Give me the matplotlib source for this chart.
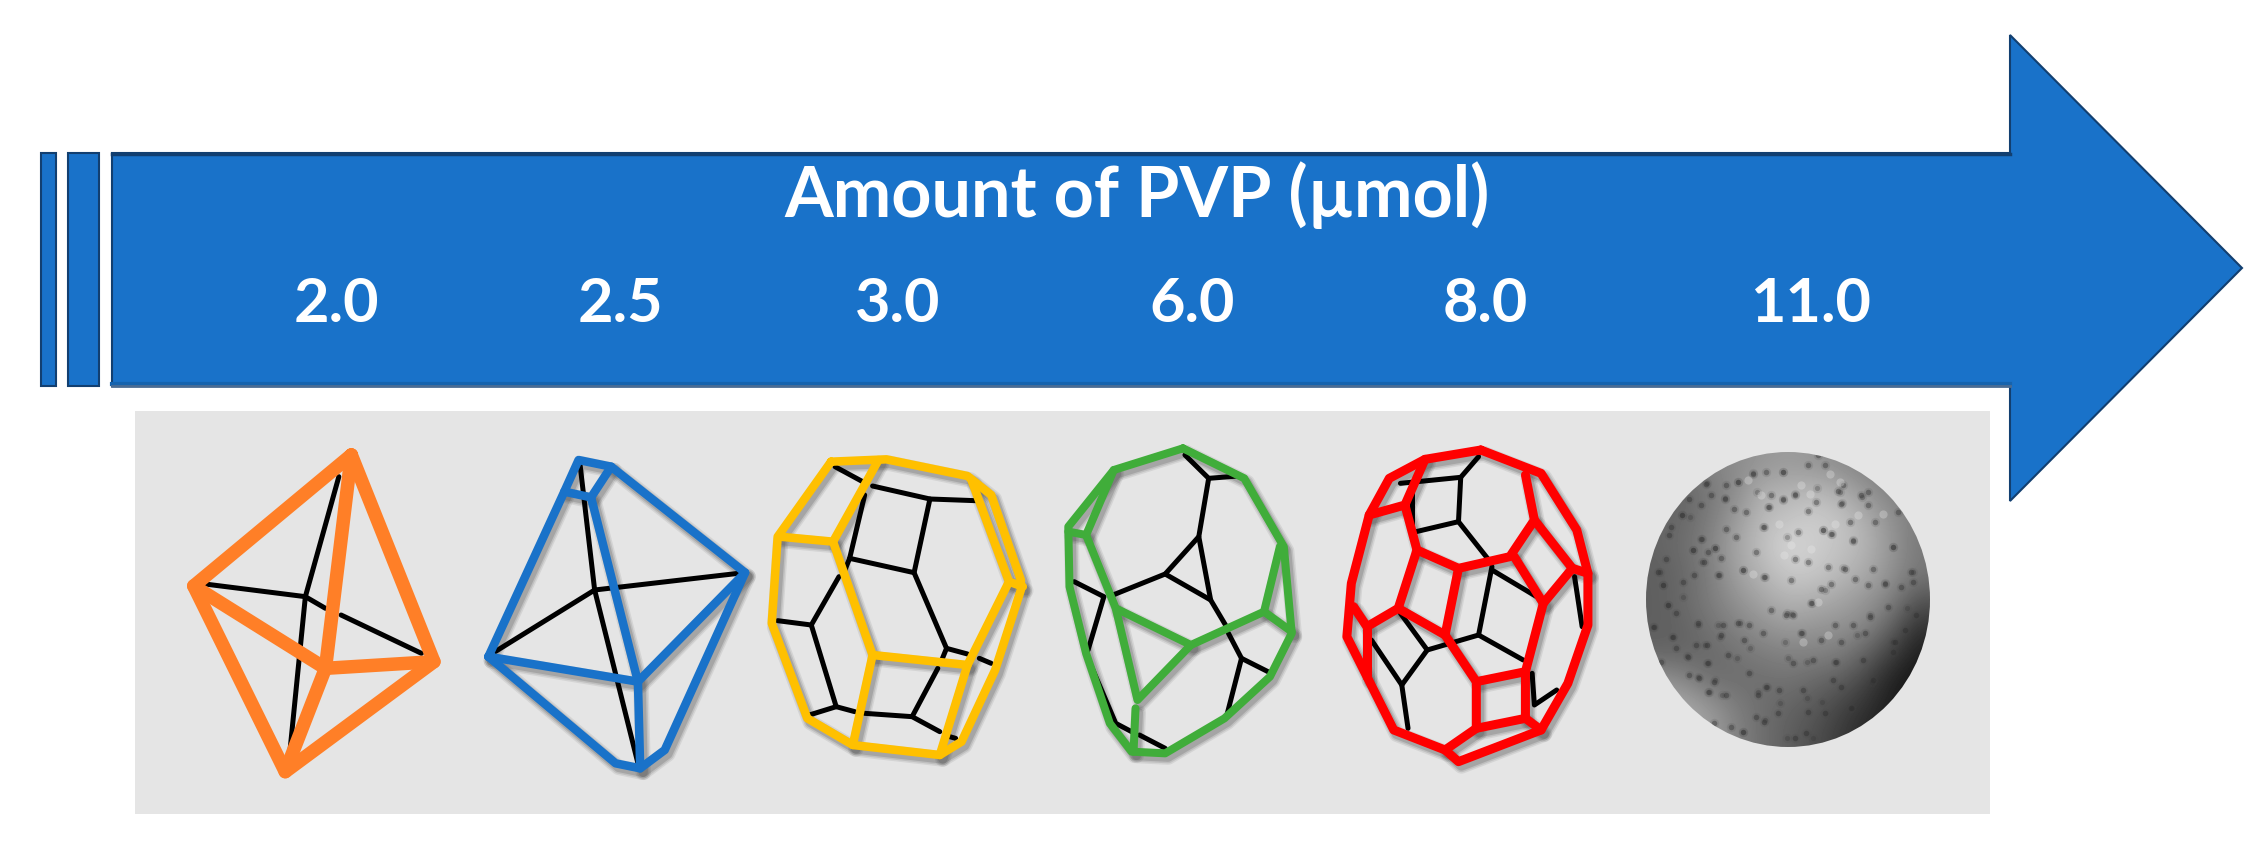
import numpy as np
import matplotlib
matplotlib.use("Agg")
import matplotlib.pyplot as plt
from matplotlib.patches import Ellipse, Polygon, Rectangle

plt.rcParams['font.family'] = ['Lato', 'DejaVu Sans']

W, H = 2261, 849
BLUE = "#1972C9"

# amounts written on the arrow
amounts = ["2.0", "2.5", "3.0", "6.0", "8.0", "11.0"]
amount_x = [336, 620, 898, 1192, 1485, 1810]
title = "Amount of PVP (\u00b5mol)"

# wireframes, traced in crop coordinates (see to_px)
orange_edges = [
    [(563, 165), (210, 558), (415, 1115), (748, 785), (563, 165)],
    [(210, 558), (505, 805), (748, 785)],
    [(563, 165), (505, 805), (415, 1115)],
]
orange_back = [
    [(535, 230), (460, 590), (425, 1060)],
    [(235, 552), (460, 590), (505, 625)],
    [(540, 645), (720, 760)],
]
blue_edges = [
    [(870, 770), (1040, 275), (1072, 180), (1145, 200), (1445, 518), (1205, 845), (870, 770)],
    [(1040, 275), (1100, 292), (1145, 200)],
    [(1100, 292), (1205, 845), (1210, 1105)],
    [(870, 770), (1155, 1090), (1210, 1105), (1265, 1050), (1445, 518)],
]
blue_back = [
    [(1075, 190), (1108, 570), (1205, 1090)],
    [(885, 755), (1108, 570), (1430, 520)],
]
yellow_edges = [
    [(205, 185), (345, 178), (550, 228), (610, 285), (685, 540), (685, 570), (620, 810),
     (535, 1025), (480, 1065), (260, 1035), (145, 955), (55, 670), (70, 410), (205, 185)],
    [(325, 180), (210, 425), (75, 410)],
    [(210, 425), (310, 765), (260, 1035)],
    [(310, 765), (550, 795), (480, 1065)],
    [(550, 795), (655, 545), (560, 240)],
    [(655, 545), (690, 560)],
]
yellow_back = [
    [(215, 200), (285, 245)],
    [(310, 258), (455, 297), (570, 302)],
    [(290, 285), (252, 475), (415, 518), (455, 297)],
    [(252, 475), (240, 510)],
    [(225, 530), (155, 675), (70, 662)],
    [(155, 675), (218, 920), (150, 945)],
    [(218, 920), (265, 935)],
    [(290, 940), (410, 950), (480, 995)],
    [(505, 1010), (520, 1015)],
    [(410, 950), (475, 805)],
    [(415, 518), (497, 745), (485, 780)],
    [(497, 745), (550, 762)],
    [(580, 775), (610, 790)],
]
green_edges = [
    [(1095, 145), (920, 210), (805, 380), (808, 560), (850, 760), (910, 970), (965, 1055),
     (1050, 1060), (1200, 955), (1315, 830), (1370, 700), (1350, 440), (1250, 235), (1095, 145)],
    [(920, 210), (850, 405), (805, 395)],
    [(850, 405), (925, 625), (1115, 735), (1300, 635), (1370, 695)],
    [(1300, 635), (1340, 440)],
    [(925, 625), (980, 900), (1115, 735)],
    [(975, 925), (970, 1055)],
]
green_back = [
    [(1100, 165), (1160, 235), (1235, 228)],
    [(1160, 235), (1135, 410), (1050, 522), (918, 585)],
    [(1135, 410), (1165, 600)],
    [(1050, 522), (1165, 600), (1205, 680)],
    [(1210, 700), (1243, 775), (1310, 815)],
    [(1243, 775), (1205, 950)],
    [(820, 545), (895, 590), (855, 750)],
    [(860, 790), (925, 970), (965, 995)],
    [(985, 1005), (1050, 1045)],
]
red_edges = [
    [(405, 150), (280, 178), (200, 235), (155, 345), (115, 550), (105, 710), (150, 830),
     (210, 990), (325, 1050), (355, 1085), (540, 990), (600, 850), (645, 675), (645, 520),
     (620, 390), (540, 220), (405, 150)],
    [(280, 178), (235, 315), (155, 345)],
    [(235, 315), (262, 450), (355, 505), (470, 470), (525, 360), (505, 225)],
    [(525, 360), (610, 505), (545, 610), (480, 470)],
    [(262, 450), (220, 625), (150, 680), (120, 620)],
    [(150, 680), (150, 830)],
    [(220, 625), (325, 705), (355, 505)],
    [(325, 705), (395, 845), (505, 815), (545, 610)],
    [(395, 845), (395, 985), (505, 955), (505, 815)],
    [(395, 985), (325, 1050)],
    [(505, 955), (540, 990)],
    [(610, 505), (645, 520)],
]
red_back = [
    [(400, 170), (360, 232), (225, 250)],
    [(360, 232), (355, 365), (260, 395)],
    [(250, 260), (250, 390)],
    [(355, 365), (420, 475)],
    [(430, 500), (400, 705), (285, 750), (225, 640)],
    [(430, 510), (530, 590)],
    [(400, 705), (500, 780)],
    [(285, 750), (228, 855), (160, 720)],
    [(228, 855), (242, 985)],
    [(520, 820), (525, 915), (575, 870)],
    [(615, 530), (632, 680)],
]

# grey levels of the sphere, read on a coarse grid
sphere_grey = [
    [120, 125, 130, 140, 150, 155, 150, 140, 130, 120, 115],
    [100, 100, 120, 140, 175, 180, 185, 175, 150, 130, 120],
    [100, 105, 125, 155, 185, 195, 205, 195, 175, 145, 125],
    [100, 110, 130, 165, 190, 215, 205, 195, 180, 150, 120],
    [95, 105, 125, 160, 180, 200, 200, 185, 170, 145, 120],
    [95, 105, 125, 145, 165, 180, 175, 165, 150, 130, 85],
    [95, 100, 115, 130, 145, 155, 150, 145, 135, 100, 50],
    [100, 100, 105, 115, 125, 130, 130, 125, 100, 65, 30],
    [150, 135, 110, 110, 110, 115, 105, 95, 70, 35, 20],
    [170, 170, 150, 125, 110, 100, 90, 70, 50, 30, 20],
    [170, 170, 160, 130, 110, 95, 80, 60, 40, 25, 20],
]
# dark specks per quarter of the sphere, crop coordinates
specks_tl = [(180, 95), (240, 100), (275, 90), (238, 140), (165, 160), (108, 190), (140, 295), (208, 288),
             (165, 262), (185, 300), (60, 320), (35, 360), (50, 400), (175, 330), (220, 370), (290, 355),
             (355, 375), (330, 300), (270, 255), (355, 225), (370, 165), (410, 140), (410, 60), (320, 65),
             (360, 60), (240, 230), (195, 130), (130, 140), (75, 225), (70, 250), (110, 390), (145, 370),
             (225, 318), (375, 128), (300, 180), (265, 170)]
specks_tr = [(20, 128), (130, 245), (150, 118), (160, 155), (220, 130), (240, 120), (60, 178), (105, 235),
             (195, 268), (315, 285), (240, 160), (20, 320), (120, 345), (170, 350), (290, 395), (340, 405),
             (370, 360), (375, 390), (60, 40), (110, 40), (90, 10), (165, 100), (260, 210), (85, 150),
             (30, 240), (200, 380), (100, 410), (10, 385), (130, 395), (255, 350), (240, 400), (330, 180),
             (60, 330), (185, 210)]
specks_bl = [(125, 170), (150, 135), (182, 135), (25, 80), (65, 15), (90, 40), (80, 110), (155, 70),
             (230, 75), (225, 105), (295, 120), (335, 285), (275, 70), (160, 235), (205, 245), (185, 190),
             (240, 285), (190, 275), (290, 395), (255, 380), (330, 350), (360, 260), (400, 270), (355, 365),
             (420, 45), (350, 100), (310, 75), (90, 145), (45, 185), (130, 225), (205, 370), (310, 220),
             (395, 340), (245, 165), (375, 30)]
specks_br = [(15, 45), (40, 100), (145, 185), (160, 125), (230, 100), (195, 75), (135, 240), (255, 240),
             (350, 90), (320, 125), (315, 155), (140, 75), (75, 180), (15, 190), (20, 415), (60, 335),
             (110, 340), (190, 325), (45, 270), (160, 260), (245, 50), (70, 10), (300, 20), (385, 45),
             (100, 120), (225, 180), (55, 400)]
# pale spots, same crops
pale_tl = [(400, 215), (415, 310), (320, 365), (345, 130), (305, 85)]
pale_tr = [(10, 280), (65, 125), (155, 90), (40, 100), (70, 290), (210, 190), (285, 185), (125, 65), (140, 215)]
pale_br = [(120, 105), (45, 125), (90, 5)]
# smaller specks
speck_x = [255, 295, 200, 150, 125, 160, 225, 185, 60, 68, 130, 85, 40, 95, 140, 195, 175, 240, 310,
           375, 455, 440, 575, 665, 600, 605, 465, 430, 385, 350, 340, 430, 530, 640, 760, 735, 820,
           800, 690, 555, 515, 485, 435, 355, 380, 445, 585, 695, 635, 545, 500, 420, 375, 310, 245,
           205, 225, 175, 200, 290, 330, 300, 235, 235, 185, 370, 440, 550, 610, 650, 760, 500, 440, 520]
speck_y = [158, 112, 115, 215, 210, 315, 310, 283, 380, 420, 455, 480, 545, 575, 632, 600, 540, 575, 375,
           395, 508, 505, 267, 155, 140, 175, 148, 165, 185, 140, 85, 80, 130, 285, 305, 415, 380,
           490, 510, 435, 475, 565, 590, 740, 725, 640, 650, 710, 790, 770, 760, 775, 825, 860, 750,
           740, 705, 695, 655, 640, 610, 535, 540, 390, 350, 245, 275, 255, 370, 570, 590, 650, 880, 880]


def to_px(paths, x0, xscale):
    # crops were x-squeezed by the viewer, y is always 3x from y=400
    return [[(x0 + x / xscale, 400 + y / 3) for x, y in p] for p in paths]


def quarter_px(points, x0, y0):
    return [(x0 + x / 3, y0 + y / 3) for x, y in points]


def draw_paths(ax, paths, color, width, shadow=False):
    for p in paths:
        xs, ys = zip(*p)
        if shadow:
            for extra, alpha in [(7, 0.10), (4, 0.14), (1, 0.20)]:
                ax.plot(np.array(xs) + 3, np.array(ys) + 4, color="#404040", alpha=alpha,
                        lw=(width + extra) * 0.72, solid_capstyle="round", zorder=2)
        ax.plot(xs, ys, color=color, lw=width * 0.72, solid_capstyle="round",
                solid_joinstyle="round", zorder=3 if color == "black" else 4)


fig = plt.figure(figsize=(W / 100, H / 100), dpi=100, facecolor="white")
ax = fig.add_axes([0, 0, 1, 1])
ax.set_xlim(0, W)
ax.set_ylim(H, 0)
ax.axis("off")

# arrow and the two stubs before it
top, bottom = 153, 386
for left, right in [(41, 56), (68, 99)]:
    ax.add_patch(Rectangle((left, top), right - left, bottom - top, fc=BLUE, ec="#123F70", lw=1.5))
arrow = [(112, top), (2010, top), (2010, 35), (2242, 268), (2010, 501), (2010, bottom), (112, bottom)]
ax.add_patch(Polygon(arrow, closed=True, fc=BLUE, ec="#123F70", lw=1.5, joinstyle="miter"))
ax.plot([112, 2010], [top + 1, top + 1], color="#123F70", lw=2.5)
ax.plot([112, 2010], [bottom - 2, bottom - 2], color="#1563AE", lw=3)
ax.plot([112, 2010], [bottom, bottom], color="#4A6C94", lw=2)

ax.text(1137, 217, title, color="white", fontsize=50.5, fontweight="bold", ha="center", va="baseline")
for label, x in zip(amounts, amount_x):
    ax.text(x, 322, label, color="white", fontsize=44, fontweight="bold", ha="center", va="baseline")

# grey panel
ax.add_patch(Rectangle((135, 411), 1855, 403, fc="#E5E5E5", ec="none", zorder=1))

draw_paths(ax, to_px(orange_back, 100, 2.24), "black", 5)
draw_paths(ax, to_px(orange_edges, 100, 2.24), "#FF7F27", 13.5)
draw_paths(ax, to_px(blue_back, 100, 2.24), "black", 5)
draw_paths(ax, to_px(blue_edges, 100, 2.24), BLUE, 8.5, shadow=True)
draw_paths(ax, to_px(yellow_back, 750, 2.529), "black", 5)
draw_paths(ax, to_px(yellow_edges, 750, 2.529), "#FFC000", 8.5, shadow=True)
draw_paths(ax, to_px(green_back, 750, 2.529), "black", 5)
draw_paths(ax, to_px(green_edges, 750, 2.529), "#40AD3A", 8, shadow=True)
draw_paths(ax, to_px(red_back, 1300, 2.24), "black", 5)
draw_paths(ax, to_px(red_edges, 1300, 2.24), "#FF0000", 9, shadow=True)

# sphere, clipped to its outline
outline = Ellipse((1788, 599.5), 284, 295, fc="none", ec="none", zorder=2)
ax.add_patch(outline)
im = ax.imshow(sphere_grey, extent=(1646, 1930, 747, 452), cmap="gray", vmin=0, vmax=255,
               interpolation="bicubic", aspect="auto", zorder=2)
im.set_clip_path(outline)

dark = (quarter_px(specks_tl, 1646, 452) + quarter_px(specks_tr, 1788, 452)
        + quarter_px(specks_bl, 1646, 600) + quarter_px(specks_br, 1788, 600))
pale = (quarter_px(pale_tl, 1646, 452) + quarter_px(pale_tr, 1788, 452)
        + quarter_px(pale_br, 1788, 600))
small = list(zip(1640 + np.array(speck_x) / 3, 445 + np.array(speck_y) / 3))
layers = [
    (small, 45, "#444444", 0.12),
    (dark, 45, "#444444", 0.14),
    (small, 14, "#333333", 0.28),
    (dark, 16, "#2a2a2a", 0.38),
    (pale, 35, "#EDEDED", 0.30),
]
for points, size, color, alpha in layers:
    xs, ys = np.array(points).T
    sp = ax.scatter(xs, ys, s=size, marker="o", color=color, alpha=alpha, linewidths=0, zorder=3)
    sp.set_clip_path(outline)
ax.set_xlim(0, W)
ax.set_ylim(H, 0)

fig.savefig("out.png", dpi=100)
